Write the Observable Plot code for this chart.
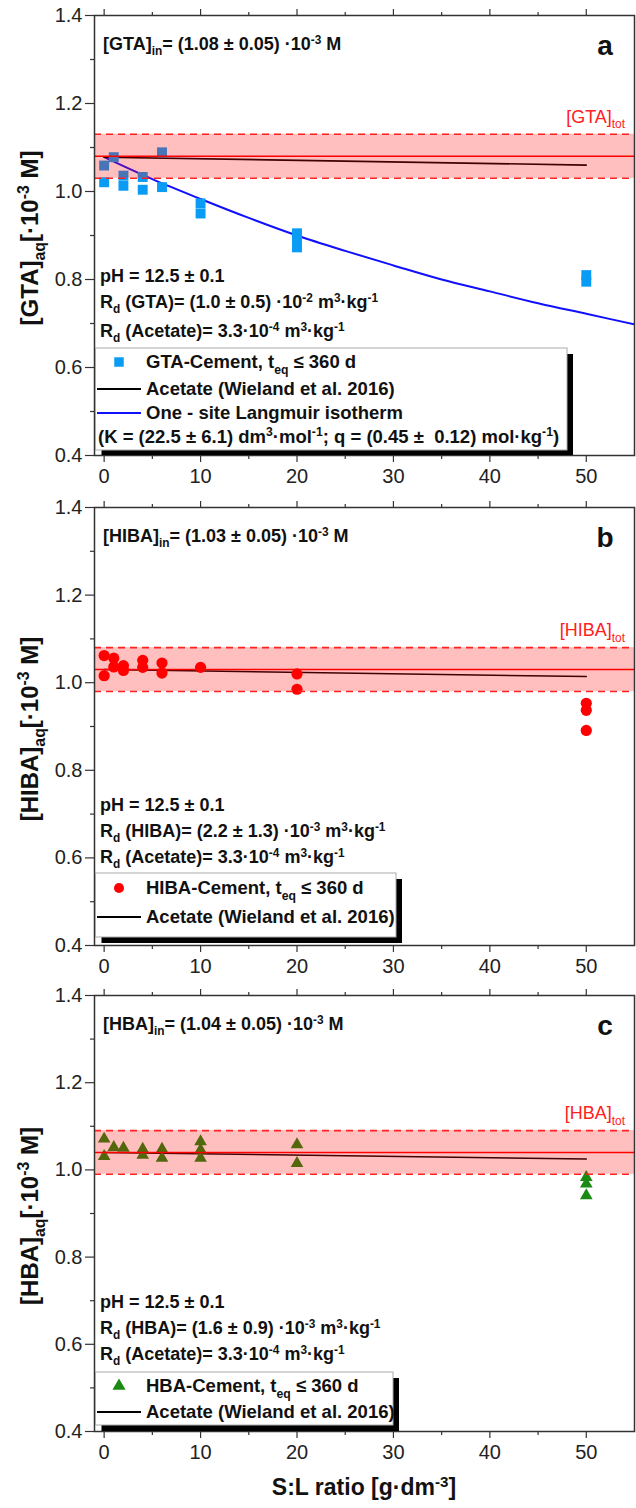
<!DOCTYPE html>
<html><head><meta charset="utf-8">
<script src="https://cdn.jsdelivr.net/npm/d3@7"></script>
<script src="https://cdn.jsdelivr.net/npm/@observablehq/plot@0.6"></script>
<style>
body{margin:0;background:#fff;}
#chart{width:636px;}
#chart svg{display:block;}
</style></head><body><div id="chart"></div>
<script>
// ---------- data ----------
const xTicks = [0, 10, 20, 30, 40, 50];
const xMinorTicks = [5, 15, 25, 35, 45];
const yTicks = [0.4, 0.6, 0.8, 1.0, 1.2, 1.4];
const yMinorTicks = [0.5, 0.7, 0.9, 1.1, 1.3];

// Panel a: GTA
const gtaSL   = [0, 0, 1, 2, 2, 4, 4, 6, 6, 10, 10, 20, 20, 20, 50, 50];
const gtaConc = [1.059, 1.021, 1.078, 1.036, 1.013, 1.033, 1.004, 1.089, 1.010, 0.973, 0.950, 0.905, 0.890, 0.873, 0.810, 0.795];
const langmuirSL   = [0, 5, 10, 15, 20, 25, 30, 35, 40, 45, 50, 55];
const langmuirConc = [1.078, 1.028, 0.983, 0.940, 0.900, 0.865, 0.832, 0.800, 0.773, 0.746, 0.722, 0.698];
const acetateSL = [0, 50];
const acetateGTA = [1.078, 1.060];
const gtaTot = {lo: 1.03, mid: 1.08, hi: 1.13};

// Panel b: HIBA
const hibaSL   = [0, 0, 1, 1, 2, 2, 4, 4, 6, 6, 10, 20, 20, 50, 50, 50];
const hibaConc = [1.062, 1.016, 1.056, 1.036, 1.039, 1.028, 1.051, 1.035, 1.045, 1.022, 1.035, 1.020, 0.985, 0.953, 0.937, 0.891];
const acetateHIBA = [1.030, 1.014];
const hibaTot = {lo: 0.98, mid: 1.03, hi: 1.08};

// Panel c: HBA
const hbaSL   = [0, 0, 1, 2, 4, 4, 6, 6, 10, 10, 10, 20, 20, 50, 50, 50];
const hbaConc = [1.071, 1.031, 1.052, 1.050, 1.048, 1.034, 1.048, 1.027, 1.065, 1.046, 1.027, 1.058, 1.015, 0.983, 0.968, 0.941];
const acetateHBA = [1.040, 1.025];
const hbaTot = {lo: 0.99, mid: 1.04, hi: 1.09};

// ---------- helpers ----------
const FONT = "'Liberation Sans', Arial, Helvetica, sans-serif";
const zip = (xs, ys) => xs.map((x, i) => ({x, y: ys[i]}));

function rich(g, str, o) {
  const size = o.size || 18;
  const t = g.append("text")
    .attr("font-family", FONT)
    .attr("font-size", size)
    .attr("font-weight", o.weight || "bold")
    .attr("fill", o.fill || "#111")
    .attr("text-anchor", o.anchor || "start")
    .style("white-space", "pre");
  if (o.rotate) t.attr("transform", `translate(${o.x},${o.y}) rotate(${o.rotate})`);
  else t.attr("x", o.x).attr("y", o.y);
  const parts = str.split(/(_\{[^}]*\}|\^\{[^}]*\})/).filter(s => s.length);
  let shift = 0;
  for (const p of parts) {
    let txt = p, target = 0, small = false;
    if (p.startsWith("_{")) { txt = p.slice(2, -1); target = size * 0.3; small = true; }
    else if (p.startsWith("^{")) { txt = p.slice(2, -1); target = -size * 0.36; small = true; }
    const ts = t.append("tspan").text(txt);
    if (target - shift !== 0) ts.attr("dy", target - shift);
    if (small) ts.attr("font-size", size * 0.66);
    shift = target;
  }
  return t;
}

function panel(cfg) {
  const pts = zip(cfg.sl, cfg.conc);
  const acet = zip(acetateSL, cfg.acetate);
  const marks = [
    Plot.axisX({anchor: "bottom", ticks: xTicks, tickSize: 7, tickPadding: 6, tickFormat: d => String(d), label: null, fontSize: 20, stroke: "#333", strokeWidth: 1.2}),
    Plot.axisX({anchor: "bottom", ticks: xMinorTicks, tickSize: 4, tickFormat: () => "", label: null, stroke: "#333", strokeWidth: 1.2}),
    Plot.axisX({anchor: "top", ticks: xTicks, tickSize: 7, tickFormat: () => "", label: null, stroke: "#333", strokeWidth: 1.2}),
    Plot.axisX({anchor: "top", ticks: xMinorTicks, tickSize: 4, tickFormat: () => "", label: null, stroke: "#333", strokeWidth: 1.2}),
    Plot.axisY({anchor: "left", ticks: yTicks, tickSize: 9, tickPadding: 3, tickFormat: d3.format(".1f"), label: null, fontSize: 20, stroke: "#333", strokeWidth: 1.2}),
    Plot.axisY({anchor: "left", ticks: yMinorTicks, tickSize: 4, tickFormat: () => "", label: null, stroke: "#333", strokeWidth: 1.2})
  ];
  if (cfg.langmuir) {
    marks.push(Plot.line(zip(langmuirSL, langmuirConc), {x: "x", y: "y", stroke: "#1010ff", strokeWidth: 2, curve: "monotone-x", clip: true}));
  }
  marks.push(
    Plot.line(acet, {x: "x", y: "y", stroke: "#000", strokeWidth: 1.6}),
    Plot.dot(pts, {x: "x", y: "y", symbol: cfg.symbol, r: cfg.r, fill: cfg.color, stroke: "none"}),
    Plot.rect([cfg.tot], {y1: "lo", y2: "hi", fill: "#ff0000", fillOpacity: 0.25}),
    Plot.ruleY([cfg.tot.lo, cfg.tot.hi], {stroke: "#ff2020", strokeWidth: 1.6, strokeDasharray: "7,5"}),
    Plot.ruleY([cfg.tot.mid], {stroke: "#ff0000", strokeWidth: 1.5}),
    Plot.frame({stroke: "#333", strokeWidth: 1.5})
  );
  const plot = Plot.plot({
    width: 636, height: cfg.height,
    marginLeft: 94, marginRight: 2, marginTop: cfg.mt, marginBottom: cfg.mb,
    x: {domain: [-1, 55]},
    y: {domain: [0.4, 1.4]},
    style: {fontFamily: FONT, fontSize: "20px", color: "#222", background: "white", overflow: "visible"},
    marks
  });
  const svg = d3.select(plot);
  const ys = plot.scale("y");
  const L = 94, R = 634, T = cfg.mt, B = cfg.height - cfg.mb;
  const g = svg.append("g");

  // y-axis label
  rich(g, cfg.ylabel, {x: 38, y: (T + B) / 2 + 3, size: 24, anchor: "middle", rotate: -90});
  // initial concentration
  rich(g, cfg.inText, {x: 103, y: T + 35, size: 18});
  // panel letter
  rich(g, cfg.letter, {x: 605, y: T + 40, size: 28, anchor: "middle"});
  // total label
  rich(g, cfg.totText, {x: 625, y: ys.apply(cfg.tot.hi) - 11, size: 18, weight: "normal", fill: "#ff2020", anchor: "end"});
  // info text
  cfg.info.forEach((s, i) => rich(g, s, {x: 100, y: T + cfg.infoY[i], size: 18}));

  // legend box with shadow
  const lb = {x0: 95.5, y0: T + cfg.leg.top, x1: cfg.leg.right, y1: B - cfg.leg.bottomGap};
  const shBottom = Math.min(lb.y1 + 6, B);
  g.append("rect").attr("x", lb.x0 + 6).attr("y", lb.y0 + 6)
    .attr("width", lb.x1 - lb.x0).attr("height", shBottom - lb.y0 - 6).attr("fill", "#000");
  g.append("rect").attr("x", lb.x0).attr("y", lb.y0)
    .attr("width", lb.x1 - lb.x0).attr("height", lb.y1 - lb.y0)
    .attr("fill", "#fff").attr("stroke", "#aaa").attr("stroke-width", 1);
  cfg.leg.items.forEach(it => {
    const cy = T + it.y;
    if (it.kind === "sym") {
      g.append("path").attr("d", d3.symbol(it.symbol, it.size)())
        .attr("transform", `translate(119,${cy})`).attr("fill", it.color);
    } else if (it.kind === "line") {
      g.append("line").attr("x1", 97).attr("x2", 141).attr("y1", cy).attr("y2", cy)
        .attr("stroke", it.color).attr("stroke-width", 1.8);
    }
    rich(g, it.text, {x: it.kind === "text" ? 98 : 146, y: cy + 6, size: 18.5});
  });

  if (cfg.xlabel) {
    rich(g, cfg.xlabel, {x: (L + R) / 2, y: cfg.height - 13, size: 23, anchor: "middle"});
  }
  document.getElementById("chart").appendChild(plot);
}

panel({
  height: 490, mt: 15, mb: 35,
  sl: gtaSL, conc: gtaConc, acetate: acetateGTA, tot: gtaTot, langmuir: true,
  symbol: "square", r: 5.6, color: "#0a9cf5",
  ylabel: "[GTA]_{aq}[·10^{-3} M]",
  inText: "[GTA]_{in}= (1.08 ± 0.05) ·10^{-3} M",
  letter: "a", totText: "[GTA]_{tot}",
  info: ["pH = 12.5 ± 0.1", "R_{d} (GTA)= (1.0 ± 0.5) ·10^{-2} m^{3}·kg^{-1}", "R_{d} (Acetate)= 3.3·10^{-4} m^{3}·kg^{-1}"],
  infoY: [267, 293, 322],
  leg: {top: 333, right: 567, bottomGap: 5, items: [
    {kind: "sym", symbol: d3.symbolSquare, size: 90, color: "#0a9cf5", y: 347, text: "GTA-Cement, t_{eq} ≤ 360 d"},
    {kind: "line", color: "#000", y: 374, text: "Acetate (Wieland et al. 2016)"},
    {kind: "line", color: "#1010ff", y: 398, text: "One - site Langmuir isotherm"},
    {kind: "text", y: 422, text: "(K = (22.5 ± 6.1) dm^{3}·mol^{-1}; q = (0.45 ±  0.12) mol·kg^{-1})"}
  ]}
});

panel({
  height: 490, mt: 17, mb: 35,
  sl: hibaSL, conc: hibaConc, acetate: acetateHIBA, tot: hibaTot,
  symbol: "circle", r: 5.6, color: "#ff0000",
  ylabel: "[HIBA]_{aq}[·10^{-3} M]",
  inText: "[HIBA]_{in}= (1.03 ± 0.05) ·10^{-3} M",
  letter: "b", totText: "[HIBA]_{tot}",
  info: ["pH = 12.5 ± 0.1", "R_{d} (HIBA)= (2.2 ± 1.3) ·10^{-3} m^{3}·kg^{-1}", "R_{d} (Acetate)= 3.3·10^{-4} m^{3}·kg^{-1}"],
  infoY: [304, 330, 356],
  leg: {top: 366, right: 396, bottomGap: 8, items: [
    {kind: "sym", symbol: d3.symbolCircle, size: 80, color: "#ff0000", y: 381, text: "HIBA-Cement, t_{eq} ≤ 360 d"},
    {kind: "line", color: "#000", y: 410, text: "Acetate (Wieland et al. 2016)"}
  ]}
});

panel({
  height: 528, mt: 15, mb: 77,
  sl: hbaSL, conc: hbaConc, acetate: acetateHBA, tot: hbaTot,
  symbol: "triangle", r: 4.7, color: "#1a8a12",
  ylabel: "[HBA]_{aq}[·10^{-3} M]",
  inText: "[HBA]_{in}= (1.04 ± 0.05) ·10^{-3} M",
  letter: "c", totText: "[HBA]_{tot}",
  info: ["pH = 12.5 ± 0.1", "R_{d} (HBA)= (1.6 ± 0.9) ·10^{-3} m^{3}·kg^{-1}", "R_{d} (Acetate)= 3.3·10^{-4} m^{3}·kg^{-1}"],
  infoY: [313, 339, 365],
  leg: {top: 377, right: 393, bottomGap: 6, items: [
    {kind: "sym", symbol: d3.symbolTriangle, size: 75, color: "#1a8a12", y: 391, text: "HBA-Cement, t_{eq} ≤ 360 d"},
    {kind: "line", color: "#000", y: 417, text: "Acetate (Wieland et al. 2016)"}
  ]},
  xlabel: "S:L ratio [g·dm^{-3}]"
});
</script>
</body></html>
